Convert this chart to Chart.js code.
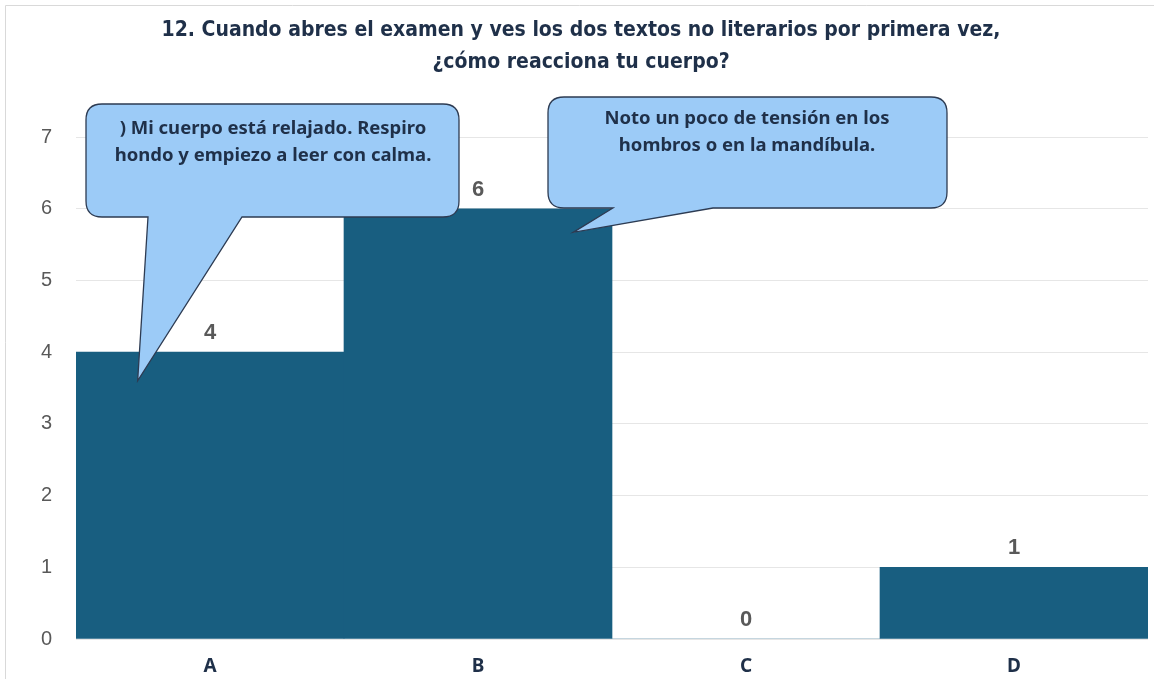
<!DOCTYPE html>
<html lang="es">
<head>
<meta charset="UTF-8">
<title>Reacción del cuerpo</title>
<script src="https://cdn.jsdelivr.net/npm/chart.js"></script>
<style>
    html, body { margin: 0; padding: 0; background: #ffffff; }
    .wrap { width: 1154px; height: 679px; position: relative; }
</style>
</head>
<body>
<div class="wrap"><canvas id="chart" width="1154" height="679"></canvas></div>
<script>
const categories = ['A', 'B', 'C', 'D'];
const respuestas = [4, 6, 0, 1];
const yTicks = [0, 1, 2, 3, 4, 5, 6, 7];
const titleLines = [
    '12. Cuando abres el examen y ves los dos textos no literarios por primera vez,',
    '¿cómo reacciona tu cuerpo?'
];
const calloutTexts = [
    [') Mi cuerpo está relajado. Respiro', 'hondo y empiezo a leer con calma.'],
    ['Noto un poco de tensión en los', 'hombros o en la mandíbula.']
];

const BAR = '#185e80';
const NAVY = '#1f3049';
const GREY = '#595959';

// speech bubble: rounded box with the tail cut into its bottom edge
function bubble(ctx, b) {
    const r = 16;
    ctx.beginPath();
    ctx.moveTo(b.x + r, b.y);
    ctx.lineTo(b.x + b.w - r, b.y);
    ctx.quadraticCurveTo(b.x + b.w, b.y, b.x + b.w, b.y + r);
    ctx.lineTo(b.x + b.w, b.y + b.h - r);
    ctx.quadraticCurveTo(b.x + b.w, b.y + b.h, b.x + b.w - r, b.y + b.h);
    ctx.lineTo(b.tail[1], b.y + b.h);
    ctx.lineTo(b.tip[0], b.tip[1]);
    ctx.lineTo(b.tail[0], b.y + b.h);
    ctx.lineTo(b.x + r, b.y + b.h);
    ctx.quadraticCurveTo(b.x, b.y + b.h, b.x, b.y + b.h - r);
    ctx.lineTo(b.x, b.y + r);
    ctx.quadraticCurveTo(b.x, b.y, b.x + r, b.y);
    ctx.closePath();
    ctx.fillStyle = '#9ccbf7';
    ctx.fill();
    ctx.lineWidth = 1.3;
    ctx.strokeStyle = '#2d3b52';
    ctx.stroke();

    ctx.fillStyle = NAVY;
    ctx.font = 'bold 18.5px "Noto Sans", sans-serif';
    ctx.textAlign = 'center';
    ctx.textBaseline = 'middle';
    b.lines.forEach((t, i) => ctx.fillText(t, b.tx, b.ty + i * 27));
}

const extras = {
    id: 'extras',
    beforeDraw(chart) {
        const ctx = chart.ctx;
        ctx.save();
        ctx.strokeStyle = '#d9d9d9';
        ctx.lineWidth = 1;
        ctx.beginPath();
        ctx.moveTo(5.5, 679);
        ctx.lineTo(5.5, 5.5);
        ctx.lineTo(1154, 5.5);
        ctx.stroke();

        ctx.fillStyle = NAVY;
        ctx.font = 'bold 21px "DejaVu Sans Condensed", sans-serif';
        ctx.textAlign = 'center';
        ctx.textBaseline = 'middle';
        ctx.fillText(titleLines[0], 581, 31);
        ctx.fillText(titleLines[1], 581, 63);
        ctx.restore();
    },
    afterDatasetsDraw(chart) {
        const ctx = chart.ctx;
        const x = chart.scales.x, y = chart.scales.y;
        ctx.save();
        ctx.fillStyle = GREY;
        ctx.font = 'bold 22px "Liberation Sans", Arial, sans-serif';
        ctx.textAlign = 'center';
        ctx.textBaseline = 'middle';
        respuestas.forEach((v, i) => {
            ctx.fillText(String(v), x.getPixelForValue(i), y.getPixelForValue(v) - 19);
        });

        // callouts pointing into bars A and B
        bubble(ctx, {
            x: 86, y: 104, w: 373, h: 113,
            tail: [148, 242],
            tip: [x.getPixelForValue(-0.27), y.getPixelForValue(3.6)],
            lines: calloutTexts[0], tx: 273, ty: 129
        });
        bubble(ctx, {
            x: 548, y: 97, w: 399, h: 111,
            tail: [613, 713],
            tip: [x.getPixelForValue(1.355), y.getPixelForValue(5.67)],
            lines: calloutTexts[1], tx: 747, ty: 119
        });
        ctx.restore();
    }
};

new Chart(document.getElementById('chart'), {
    type: 'bar',
    data: {
        labels: categories,
        datasets: [{
            data: respuestas,
            backgroundColor: BAR,
            borderWidth: 0,
            barPercentage: 1,
            categoryPercentage: 1
        }]
    },
    options: {
        responsive: false,
        animation: false,
        layout: { padding: { top: 137, left: 5, right: 6, bottom: 0 } },
        plugins: {
            legend: { display: false },
            tooltip: { enabled: false }
        },
        scales: {
            x: {
                afterFit(scale) { scale.height = 40; },
                grid: { display: false, drawTicks: false },
                border: { display: false },
                ticks: {
                    color: NAVY,
                    padding: 16,
                    font: { family: '"Noto Sans", sans-serif', size: 19, weight: 'bold' }
                }
            },
            y: {
                min: 0,
                max: yTicks[yTicks.length - 1],
                afterBuildTicks(scale) { scale.ticks = yTicks.map(v => ({ value: v })); },
                afterFit(scale) { scale.width = 71; },
                grid: { color: '#e6e6e6', drawTicks: false },
                border: { display: false },
                ticks: {
                    color: GREY,
                    padding: 24,
                    font: { family: '"Liberation Sans", Arial, sans-serif', size: 20 }
                }
            }
        }
    },
    plugins: [extras]
});
</script>
</body>
</html>
